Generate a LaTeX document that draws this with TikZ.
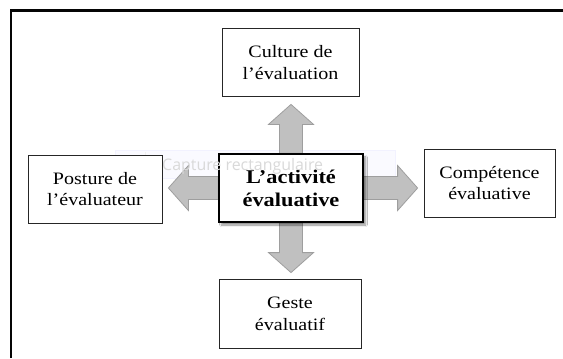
\documentclass[tikz,border=0pt]{standalone}
\usepackage{fontspec}
\setmainfont[FakeStretch=1.15]{Liberation Serif}
\newfontfamily\capturefont{Open Sans}
\usepackage{xcolor}
\usetikzlibrary{calc, positioning, backgrounds, shadows.blur}

\definecolor{arrowfill}{RGB}{192,192,192}
\definecolor{arrowedge}{RGB}{158,158,158}
\definecolor{framecol}{RGB}{5,5,5}

\begin{document}
\begin{tikzpicture}[x=1bp,y=-1bp,
    box/.style={rectangle,draw=black!85,line width=0.8pt,fill=white,align=center,
                font=\fontsize{17.5}{22}\selectfont,minimum height=68bp,inner sep=0pt},
    main box/.style={box,draw=black,line width=1.4pt,font=\fontsize{19.5}{23}\selectfont\bfseries,
                blur shadow={shadow xshift=2.5pt,shadow yshift=-3pt,shadow blur steps=8,shadow opacity=45}},
    fatarrow/.style={draw=arrowedge,fill=arrowfill,line width=0.8pt,
        to path={($(\tikztostart)!11.5bp!90:(\tikztotarget)$)
          -- ($(\tikztotarget)!20bp!(\tikztostart)!11.5bp!90:(\tikztotarget)$)
          -- ($(\tikztotarget)!20bp!(\tikztostart)!22.5bp!90:(\tikztotarget)$)
          -- (\tikztotarget)
          -- ($(\tikztotarget)!20bp!(\tikztostart)!22.5bp!-90:(\tikztotarget)$)
          -- ($(\tikztotarget)!20bp!(\tikztostart)!11.5bp!-90:(\tikztotarget)$)
          -- ($(\tikztostart)!11.5bp!-90:(\tikztotarget)$) -- cycle}}]

  \useasboundingbox (0,0) rectangle (563,358);

%Frame of the capture
  \draw[framecol,line width=3pt] (11,358) -- (11,10.5) -- (563,10.5);

%The five boxes
  \node[box,minimum width=137bp] (cult) at (290.5,62.5) {Culture de\\l’évaluation};
  \node[box,minimum width=134bp] (post) at (95,189) {Posture de\\l’évaluateur};
  \node[main box,minimum width=144bp] (act) at (291,188) {L’activité\\évaluative};
  \node[box,minimum width=131bp] (comp) at (489.5,183) {Compétence\\évaluative};
  \node[box,minimum width=142bp,minimum height=69bp] (geste) at (290,313.5) {Geste\\évaluatif};

%Arrow tips
  \coordinate[yshift=-7.5bp] (tipN) at (act.north |- cult.south);
  \coordinate[yshift=6bp] (tipS) at (act.south |- geste.north);
  \coordinate[xshift=6bp] (tipW) at (post.east |- act.west);
  \coordinate[xshift=-6bp] (tipE) at (comp.west |- act.east);

\begin{scope}[on background layer]
  \fill[white] (0,0) rectangle (563,358);

  %Screen capture tooltip, behind everything
  \node[draw=blue!5,fill=blue!2,minimum width=280bp,minimum height=28bp,inner sep=0pt]
        (capture) at (255,164) {};
  \node[circle,fill=black!10,minimum size=7bp,inner sep=0pt] (captureicon) at (132,163) {};
  \draw[black!6] (145,152) -- (145,176);

  \draw[fatarrow] (act.north) to (tipN);
  \draw[fatarrow] (act.south) to (tipS);
  \draw[fatarrow] (act.west) to (tipW);
  \draw[fatarrow] (act.east) to (tipE);
\end{scope}

  \node[anchor=base west,text=black!15,font=\capturefont\fontsize{16}{18}\selectfont,inner sep=0pt]
        (capturetext) at (162,170) {Capture rectangulaire};
\end{tikzpicture}
\end{document}
